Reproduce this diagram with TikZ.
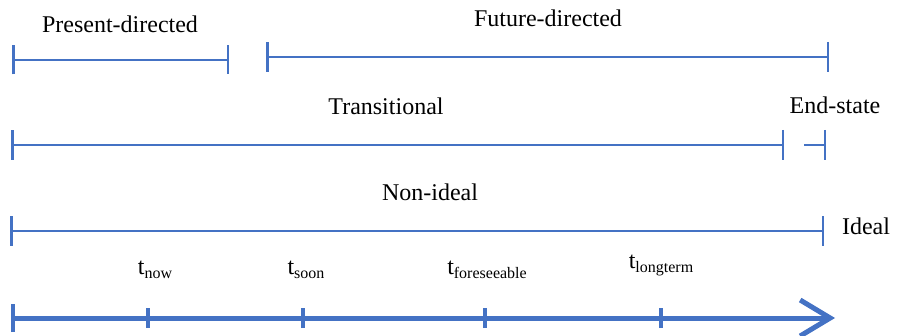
\documentclass[tikz,border=0pt]{standalone}
\usepackage{fontspec}
\setmainfont{Liberation Serif}
\usepackage{tikz}
\usetikzlibrary{arrows.meta}
\definecolor{barblue}{RGB}{68, 114, 196}
\newcommand{\tlab}[1]{t\raisebox{-4pt}{\fontsize{16}{16}\selectfont #1}}

\begin{document}
\begin{tikzpicture}[x=1pt, y=1pt,
  span/.style={barblue, line width=2.5pt},
  lbl/.style={font=\fontsize{24}{28}\selectfont, inner sep=0pt}]
\useasboundingbox (0,0) rectangle (897,335);

% present vs future
\coordinate (pd1) at (12,275);
\coordinate (pd2) at (229,275);
\coordinate (fd1) at (266,278);
\coordinate (fd2) at (829,278);
\draw[span, {Bar[width=29pt]}-{Bar[width=29pt]}] (pd1) -- (pd2);
\draw[span, {Bar[width=30pt]}-{Bar[width=30pt]}] (fd1) -- (fd2);
\node[lbl] (pdtext) at (120,311) {Present-directed};
\node[lbl] (fdtext) at (548,317) {Future-directed};

% transitional vs end-state
\coordinate (tr1) at (11,190);
\coordinate (tr2) at (784,190);
\coordinate (es1) at (804,190);
\coordinate (es2) at (826,190);
\draw[span, {Bar[width=30pt]}-{Bar[width=30pt]}] (tr1) -- (tr2);
\draw[span, -{Bar[width=30pt]}] (es1) -- (es2);
\node[lbl] (trtext) at (386,229) {Transitional};
\node[lbl] (estext) at (835,230) {End-state};

% non-ideal vs ideal
\coordinate (ni1) at (10,104);
\coordinate (ni2) at (824,104);
\draw[span, {Bar[width=29pt]}-{Bar[width=29pt]}] (ni1) -- (ni2);
\node[lbl] (nitext) at (430,143) {Non-ideal};
\node[lbl] (idtext) at (866,109) {Ideal};

% time axis
\coordinate (ax1) at (11,17);
\coordinate (ax2) at (835,17);
\draw[barblue, line width=5pt, {Bar[width=28pt, line width=4pt]}-{Straight Barb[length=30pt, width=36pt]}] (ax1) -- (ax2);
\foreach \x/\name in {148/now, 303/soon, 485/fore, 661/long}
  \draw[barblue, line width=4pt] (\x,7) coordinate (\name a) -- (\x,27) coordinate (\name b);
\node[lbl] (tnow) at (155,65) {\tlab{now}};
\node[lbl] (tsoon) at (306,65) {\tlab{soon}};
\node[lbl] (tfore) at (487,65) {\tlab{foreseeable}};
\node[lbl] (tlong) at (661,70) {\tlab{longterm}};
\end{tikzpicture}
\end{document}
